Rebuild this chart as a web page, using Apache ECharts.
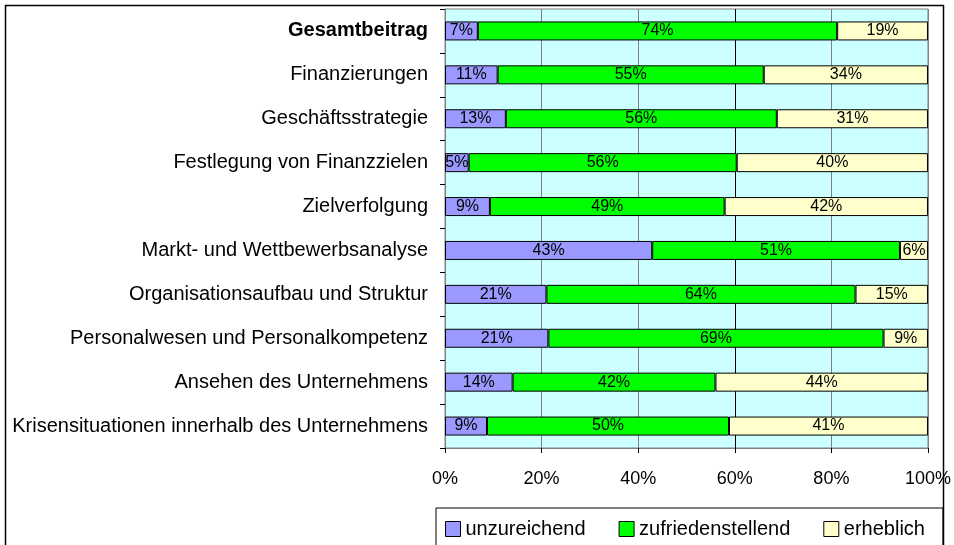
<!DOCTYPE html>
<html>
<head>
<meta charset="utf-8">
<script src="https://cdn.jsdelivr.net/npm/echarts@6/dist/echarts.min.js"></script>
<style>
html,body{margin:0;padding:0;background:#fff;}
#c{width:954px;height:545px;}
</style>
</head>
<body>
<div id="c"></div>
<script>
const categories = [
  'Gesamtbeitrag',
  'Finanzierungen',
  'Geschäftsstrategie',
  'Festlegung von Finanzzielen',
  'Zielverfolgung',
  'Markt- und Wettbewerbsanalyse',
  'Organisationsaufbau und Struktur',
  'Personalwesen und Personalkompetenz',
  'Ansehen des Unternehmens',
  'Krisensituationen innerhalb des Unternehmens'
];
const unzureichend =       [6.8, 10.9, 12.6, 4.9, 9.3, 42.9, 21.0, 21.4, 14.0, 8.7];
const zufriedenstellend =  [74.4, 55.1, 56.1, 55.5, 48.6, 51.3, 64.0, 69.4, 42.0, 50.1];
const erheblich =          [18.8, 34.0, 31.3, 39.6, 42.1, 5.8, 15.0, 9.2, 44.0, 41.2];
const xTicks = [0, 20, 40, 60, 80, 100];
const seriesNames = ['unzureichend', 'zufriedenstellend', 'erheblich'];
const seriesColors = ['#9999ff', '#00ff00', '#ffffcc'];

const FONT = '"Liberation Sans", Arial, sans-serif';
const chart = echarts.init(document.getElementById('c'), null, {renderer: 'canvas'});

function mkSeries(name, data, color) {
  return {
    name: name,
    type: 'bar',
    stack: 'total',
    data: data,
    barWidth: 19,
    itemStyle: {color: color, borderColor: '#000', borderWidth: 1},
    label: {
      show: true,
      position: 'inside',
      color: '#000',
      fontFamily: FONT,
      fontSize: 16,
      formatter: p => Math.round(p.value) + '%'
    },
    emphasis: {disabled: true}
  };
}

chart.setOption({
  animation: false,
  backgroundColor: '#fff',
  graphic: [{
    type: 'rect',
    shape: {x: 5.5, y: 5.5, width: 938, height: 560},
    style: {fill: 'none', stroke: '#000', lineWidth: 1.5},
    silent: true
  }],
  grid: {
    left: 445, right: 954 - 930, top: 9, bottom: 545 - 448,
    show: true, backgroundColor: '#ccffff', borderColor: '#808080', borderWidth: 1
  },
  legend: {
    data: seriesNames,
    left: 436, top: 508,
    padding: [11, 18, 10, 9],
    itemWidth: 15, itemHeight: 15, itemGap: 33,
    borderColor: '#000', borderWidth: 1,
    icon: 'rect',
    textStyle: {fontFamily: FONT, fontSize: 20, color: '#000'},
    itemStyle: {borderColor: '#000', borderWidth: 1}
  },
  xAxis: {
    type: 'value', min: xTicks[0], max: xTicks[xTicks.length - 1], interval: 20,
    axisLine: {show: true, lineStyle: {color: '#808080'}},
    axisTick: {show: true, length: 5, lineStyle: {color: '#000'}},
    splitLine: {show: true, lineStyle: {color: ['#808080', '#808080', '#808080', '#000000', '#808080', '#808080'], width: 1}},
    axisLabel: {
      margin: 22, color: '#000', fontFamily: FONT, fontSize: 18,
      formatter: v => v + '%'
    }
  },
  yAxis: {
    type: 'category', data: categories, inverse: true,
    axisLine: {show: true, lineStyle: {color: '#808080'}},
    axisTick: {show: true, length: 5, lineStyle: {color: '#000'}},
    axisLabel: {
      margin: 17, color: '#000', fontFamily: FONT, fontSize: 20,
      formatter: (v, i) => i === 0 ? '{b|' + v + '}' : v,
      rich: {b: {fontWeight: 'bold', fontFamily: FONT, fontSize: 20, color: '#000'}}
    }
  },
  series: [
    mkSeries(seriesNames[0], unzureichend, seriesColors[0]),
    mkSeries(seriesNames[1], zufriedenstellend, seriesColors[1]),
    mkSeries(seriesNames[2], erheblich, seriesColors[2])
  ]
});
</script>
</body>
</html>
